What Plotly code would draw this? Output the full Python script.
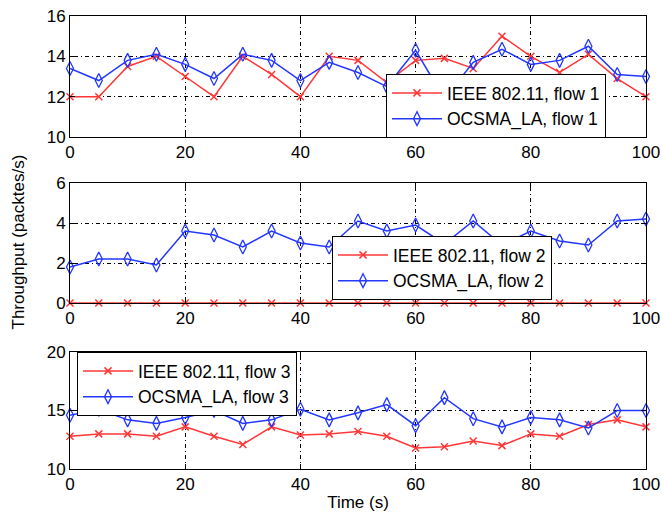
import plotly.graph_objects as go

time_s = [0, 5, 10, 15, 20, 25, 30, 35, 40, 45, 50, 55, 60, 65, 70, 75, 80, 85, 90, 95, 100]

ieee_flow1 = [12.0, 12.0, 13.5, 14.0, 13.0, 12.0, 14.0, 13.1, 12.0, 14.0, 13.8, 12.7, 13.8, 13.9, 13.4, 15.0, 14.0, 13.2, 14.1, 12.9, 12.0]
ocsma_flow1 = [13.4, 12.8, 13.8, 14.1, 13.6, 12.9, 14.1, 13.8, 12.8, 13.7, 13.2, 12.5, 14.3, 11.9, 13.7, 14.35, 13.6, 13.8, 14.5, 13.1, 13.0]

ieee_flow2 = [0.0] * 21
ocsma_flow2 = [1.8, 2.2, 2.2, 1.9, 3.6, 3.4, 2.8, 3.6, 3.0, 2.8, 4.1, 3.6, 3.9, 2.95, 4.1, 2.9, 3.6, 3.1, 2.9, 4.1, 4.2]

ieee_flow3 = [12.8, 13.0, 13.0, 12.8, 13.6, 12.8, 12.1, 13.6, 12.9, 13.0, 13.2, 12.8, 11.8, 11.9, 12.4, 12.0, 13.0, 12.8, 13.8, 14.2, 13.6]
ocsma_flow3 = [14.6, 15.1, 14.2, 13.9, 14.4, 15.0, 13.9, 14.2, 15.1, 14.2, 14.8, 15.5, 13.7, 16.1, 14.3, 13.6, 14.4, 14.2, 13.5, 15.0, 15.0]

x_ticks = [0, 20, 40, 60, 80, 100]
y_ticks1 = [10, 12, 14, 16]
y_ticks2 = [0, 2, 4, 6]
y_ticks3 = [10, 15, 20]

RED = "rgb(255,55,55)"
BLUE = "rgb(35,55,255)"
FONT = "Liberation Sans, Arial, Helvetica, sans-serif"

fig = go.Figure()

panels = [
    ("", ieee_flow1, ocsma_flow1, "1", "legend"),
    ("2", ieee_flow2, ocsma_flow2, "2", "legend2"),
    ("3", ieee_flow3, ocsma_flow3, "3", "legend3"),
]
for ax, ieee, ocsma, n, leg in panels:
    fig.add_trace(go.Scatter(
        x=time_s, y=ieee, mode="lines+markers", name=f"IEEE 802.11, flow {n}",
        line=dict(color=RED, width=1.5),
        marker=dict(symbol="x-thin-open", size=7, line=dict(color=RED, width=1.5)),
        xaxis="x" + ax, yaxis="y" + ax, legend=leg, cliponaxis=False))
    fig.add_trace(go.Scatter(
        x=time_s, y=ocsma, mode="lines+markers", name=f"OCSMA_LA, flow {n}",
        line=dict(color=BLUE, width=1.5),
        marker=dict(symbol="diamond-tall-open", size=10, line=dict(color=BLUE, width=1.3)),
        xaxis="x" + ax, yaxis="y" + ax, legend=leg, cliponaxis=False))

H = 453.0
def dom(top_px, bot_px):
    return [(469 - bot_px) / H, (469 - top_px) / H]

axis_common = dict(
    showline=True, mirror="ticks", linecolor="black", linewidth=1,
    ticks="inside", ticklen=5, tickcolor="black", tickwidth=1,
    showgrid=True, gridcolor="black", gridwidth=1, griddash="1px,3px,4px,3px",
    zeroline=False, automargin=False,
    tickfont=dict(size=17, color="black", family=FONT),
)

xa = dict(axis_common, range=[0, 100], tickvals=x_ticks, domain=[0, 1])
fig.update_layout(
    template="none",
    xaxis=dict(xa, anchor="y"),
    xaxis2=dict(xa, anchor="y2"),
    xaxis3=dict(xa, anchor="y3", title=dict(text="Time (s)", font=dict(size=17, family=FONT, color="black"), standoff=2)),
    yaxis=dict(axis_common, range=[10, 16], tickvals=y_ticks1, domain=dom(16, 137), anchor="x"),
    yaxis2=dict(axis_common, range=[0, 6], tickvals=y_ticks2, domain=dom(183, 303), anchor="x2"),
    yaxis3=dict(axis_common, range=[10, 20], tickvals=y_ticks3, domain=dom(352, 469), anchor="x3"),
)

leg_common = dict(
    bgcolor="white", bordercolor="black", borderwidth=1,
    font=dict(size=17.5, family=FONT, color="black"), itemwidth=50,
    tracegroupgap=0, xref="paper", yref="paper",
)
fig.update_layout(
    legend=dict(leg_common, x=(386 - 70) / 576, y=(469 - 138) / H, xanchor="left", yanchor="bottom"),
    legend2=dict(leg_common, x=(332 - 70) / 576, y=(469 - 300) / H, xanchor="left", yanchor="bottom"),
    legend3=dict(leg_common, x=(77 - 70) / 576, y=(469 - 352) / H, xanchor="left", yanchor="top"),
)

fig.add_annotation(
    text="Throughput (packtes/s)", xref="paper", yref="paper",
    x=(18 - 70) / 576, y=0.5, xanchor="center", yanchor="middle",
    textangle=-90, showarrow=False, font=dict(size=17, family=FONT, color="black"))

fig.update_layout(
    width=662, height=515, autosize=False,
    margin=dict(l=70, r=16, t=16, b=46),
    paper_bgcolor="white", plot_bgcolor="white",
    font=dict(family=FONT, color="black"),
    showlegend=True,
)

fig.write_html("out.html", config={"displayModeBar": False},
               post_script="document.body.style.margin='0';document.body.style.overflow='hidden';")
